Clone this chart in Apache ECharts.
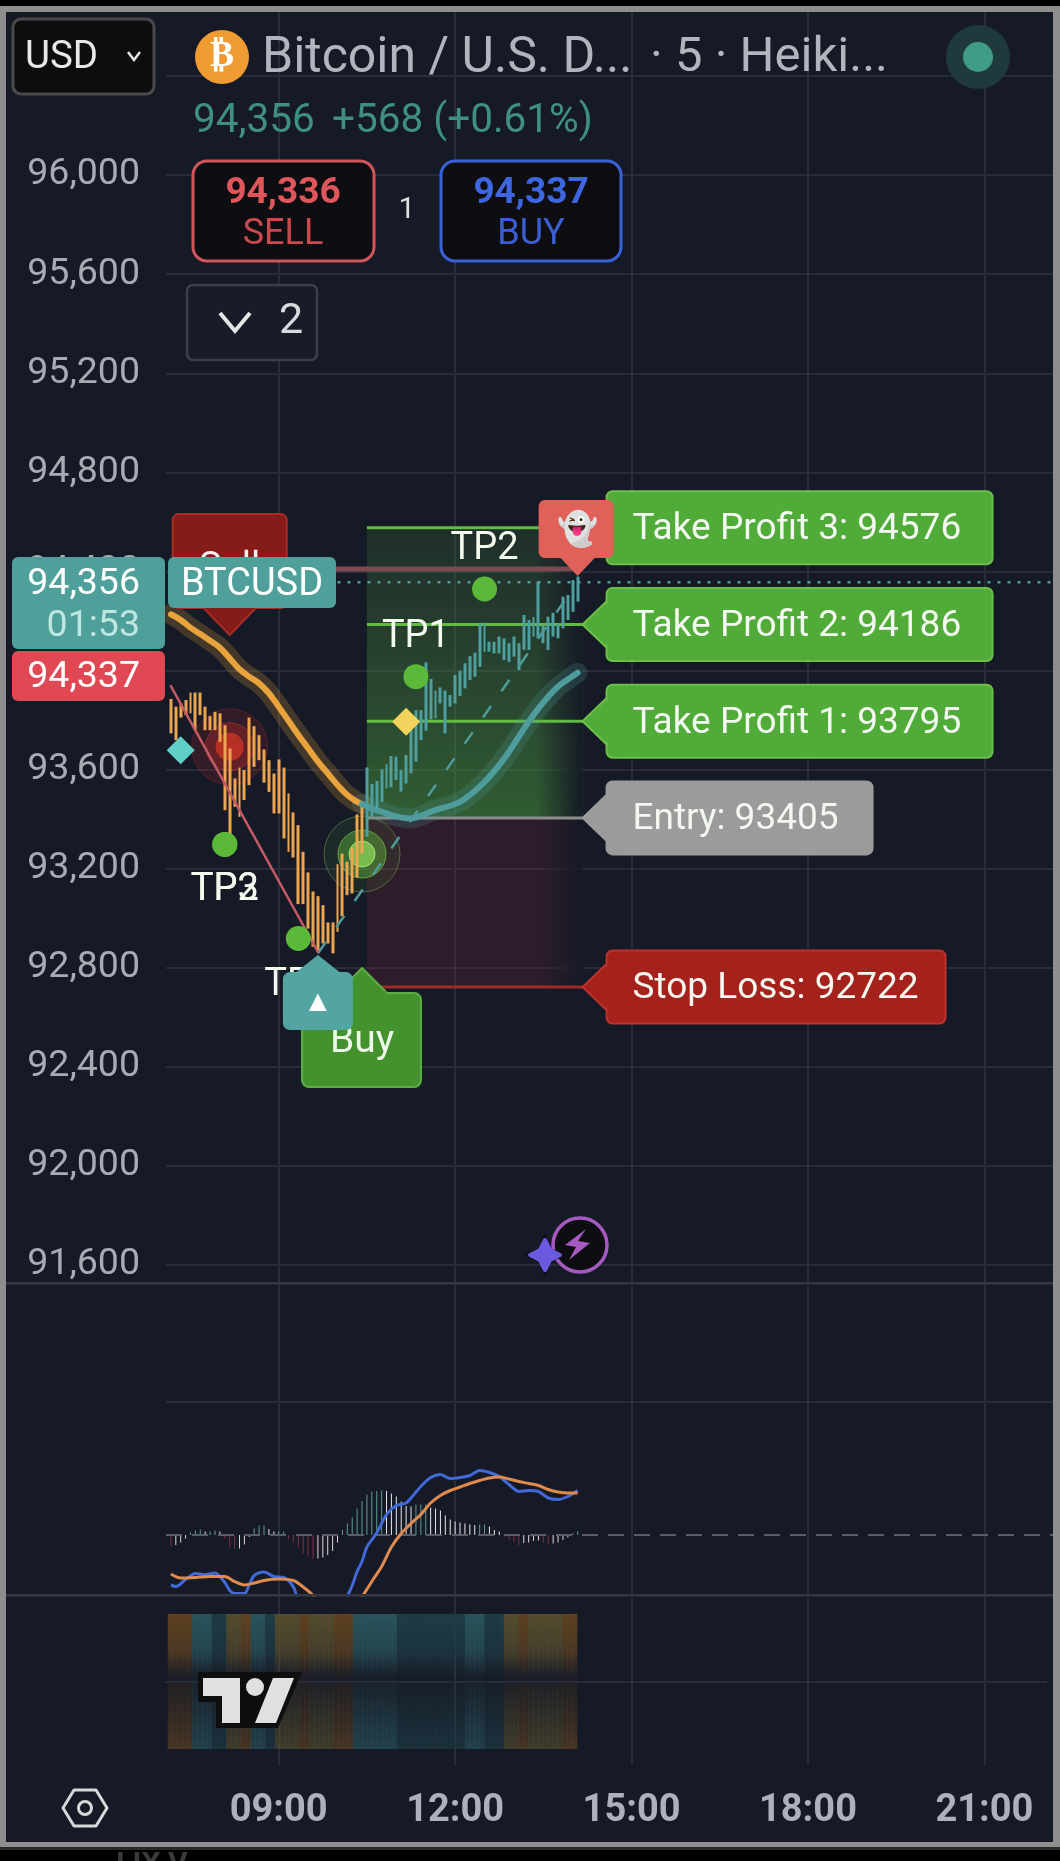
<!DOCTYPE html>
<html><head><meta charset="utf-8">
<script src="https://cdn.jsdelivr.net/npm/echarts@6/dist/echarts.min.js"></script>
<style>
html,body{margin:0;padding:0;background:#000;overflow:hidden}
#frame{position:absolute;left:0;top:6px;width:1060px;height:1841px;background:#8e8e8e}
#inner{position:absolute;left:6px;top:6px;width:1047px;height:1830px;background:#161a26}
#under{position:absolute;left:0;top:1847px;width:1060px;height:3px;background:#2a2a2a}
#chart{position:absolute;left:0;top:0;width:1060px;height:1861px}
</style></head><body>
<div id="frame"><div id="inner"></div></div><div id="under"></div>
<div id="chart"></div>
<script>
const priceTicksMin = 91600, priceTicksMax = 96400, priceStep = 400;
const timeCategories = [];
for (let m = 7 * 60 + 5, n = 0; n < 182; n++, m += 5) {
  timeCategories.push(String(Math.floor(m / 60)).padStart(2, '0') + ':' + String(m % 60).padStart(2, '0'));
}
const amberHigh = [93885,93854,93867,93881,93911,93911,93911,93854,93816,93833,93827,93779,93685,93564,93608,93598,93810,93775,93739,93681,93638,93584,93641,93608,93504,93427,93376,93268,93185,93108,93089,93053,92983,92983,93218,93261,93228,93284,93419,93463];
const amberLow = [93746,93719,93810,93820,93827,93759,93820,93759,93759,93759,93712,93436,93335,93450,93409,93477,93537,93611,93638,93547,93510,93423,93423,93322,93268,93245,93057,93057,92958,92885,92864,92898,92898,92858,92945,93008,93093,93100,93164,93261];
const tealHigh = [93609,93542,93554,93601,93622,93655,93652,93598,93659,93766,93840,93840,94033,93966,93919,93932,93919,93901,93982,93999,94029,94058,94072,94190,94193,94116,94116,94137,94130,94110,94137,94110,94224,94204,94215,94359,94184,94217,94233,94190,94298,94305,94365,94379];
const tealLow = [93329,93410,93423,93470,93524,93528,93558,93511,93544,93585,93632,93719,93757,93803,93807,93867,93746,93854,93867,93897,93928,93962,93975,94015,94076,94076,94069,94069,94042,94035,94056,94002,94083,94083,94137,94130,94110,94083,94137,94130,94170,94204,94237,94278];

const maAmberBars = [0,2,4,6,8,10,12,14,16,18,20,22,24,26,28,30,32,34,36,38,39];
const maAmberValues = [94227,94204,94173,94147,94120,94092,94049,94005,93975,93948,93908,93854,93797,93740,93686,93632,93585,93538,93497,93470,93461];
const maTealBars = [39,41,43,45,47,49,51,53,55,57,59,61,63,65,67,69,71,73,75,77,79,81,83];
const maTealValues = [93461,93443,93430,93416,93407,93403,93413,93430,93443,93454,93470,93497,93531,93571,93618,93672,93733,93793,93847,93894,93935,93964,93991];

const macdBars = [0,1,3,5,7,9,11,12,13,15,16,17,19,21,23,25,26,28,31,34,36,37,38,39,40,42,44,46,48,49,51,53,55,57,59,61,63,65,67,69,71,73,75,77,79,81,83];
const macdValues = [-100,-103,-89,-77,-79,-76,-95,-111,-117,-117,-99,-81,-74,-83,-85,-104,-136,-223,-236,-183,-123,-101,-73,-53,-24,4,41,59,64,74,97,115,121,113,115,119,129,125,117,101,87,89,87,74,71,77,89];
const signalBars = [0,2,5,8,11,13,15,17,19,22,25,27,29,32,35,37,39,41,43,45,47,49,51,53,55,57,59,61,63,65,67,69,71,73,75,77,79,81,83];
const signalValues = [-78,-86,-85,-83,-83,-93,-100,-96,-91,-88,-91,-104,-121,-163,-169,-156,-124,-93,-63,-24,3,23,41,64,79,89,96,103,109,114,116,112,107,103,99,91,86,84,84];
const macdHist = [-23,-20,-15,-7,5,9,11,7,7,9,7,-7,-25,-28,-27,-19,-4,13,19,19,12,7,7,7,-8,-15,-25,-37,-43,-48,-47,-45,-40,-32,-15,10,23,35,53,68,81,87,88,89,88,83,77,67,58,57,61,61,61,55,53,49,39,31,27,25,23,21,20,21,21,17,10,7,-4,-10,-15,-20,-16,-15,-12,-11,-15,-19,-17,-15,-10,-5,3,7];

const stripeRunLengths = [5,4,3,3,2,3,2,5,2,5,4,9,14,4,4,3,2,7,3];
const stripeKinds = ['brown','teal','deep','olive','brown','teal','deep','olive','brown','olive','brown','teal','deep','teal','deep','olive','brown','olive','brown'];

const entryPrice = 93405, stopPrice = 92722, tp1Price = 93795, tp2Price = 94186, tp3Price = 94576;
const lastPrice = 94356, redLinePrice = 94410;
const zoneStartCat = 41, zoneEndCat = 85;
const tagLabels = ['Take Profit 3: 94576','Take Profit 2: 94186','Take Profit 1: 93795','Entry: 93405','Stop Loss: 92722'];
const tagPrices = [tp3Price,tp2Price,tp1Price,entryPrice,stopPrice];
const levelColors = ['#62bb45','#62bb45','#62bb45','#8d8d8d','#a02a24'];

const dotCats = [65,51,12,12,27];
const dotPrices = [94329,93975,93298,93298,92918];
const dotNames = ['TP2','TP1','TP3','TP2','TP1'];
const dotPlacement = ['top','top','bottom','bottom','bottom'];
const diamondCats = [3,49];
const diamondPrices = [93678,93793];
const diamondColors = ['#5fcfc8','#f2d45c'];
const pulseCats = [13,40];
const pulsePrices = [93692,93259];
const trendCats = [31,82];
const trendPrices = [92858,94300];
const diagCats = [1,31];
const diagPrices = [93937,92864];
const flagNames = ['Sell','Buy','up','ghost'];
const flagCats = [13,40,31,84];
const flagPrices = [94143,92799,92851,94381];

const F = 'Roboto, "Noto Sans", sans-serif';
const BG = '#161a26', GRID = '#282c38';
const pairs = (bars, vals, off = 1) => bars.map((b, i) => [b + off, vals[i]]);
const pad = (arr, start) => {
  const out = timeCategories.map(() => '-');
  arr.forEach((v, i) => { out[start + i] = v; });
  return out;
};
const isMajor = (i, v) => { const p = v.split(':'); return p[1] === '00' && Number(p[0]) % 3 === 0; };

const amberCandles = pad(amberHigh.map((h, i) => [h, amberLow[i], amberLow[i], h]), 1);
const tealCandles = pad(tealHigh.map((h, i) => [tealLow[i], h, tealLow[i], h]), 41);

const stripeRgb = { brown:'94,66,34', olive:'84,76,46', teal:'42,84,92', deep:'30,60,70' };
const stripeSeq = [];
stripeRunLengths.forEach((n, i) => { for (let k = 0; k < n; k++) stripeSeq.push(stripeKinds[i]); });
const stripeData = pad(stripeSeq.map(k => {
  const c = stripeRgb[k];
  return { value: 1, itemStyle: { color: { type:'linear', x:0, y:0, x2:0, y2:1, colorStops:[
    {offset:0,color:`rgba(${c},1)`},{offset:.28,color:`rgba(${c},.72)`},{offset:.47,color:`rgba(${c},.05)`},
    {offset:.53,color:`rgba(${c},.16)`},{offset:1,color:`rgba(${c},.66)`}] } } };
}), 1);

const histColor = i => {
  const v = macdHist[i], p = i ? macdHist[i - 1] : v;
  if (v >= 0) return v >= p ? '#5e9c92' : '#e4e8ea';
  return v <= p ? '#7d2f40' : '#e6d4d8';
};
const histData = pad(macdHist.map((v, i) => ({ value: v, itemStyle: { color: histColor(i) } })), 1);

const hAxis = (idx, extra) => Object.assign({
  type:'category', gridIndex:idx, data:timeCategories, boundaryGap:false, show:false,
  axisLine:{show:false}, axisTick:{show:false}, axisLabel:{show:false}, splitLine:{show:false}
}, extra);

const onPrice = { xAxisIndex:1, yAxisIndex:1 };
const txt = (x, y, text, size, fill, align, weight, fam) => ({ type:'text', x, y, style:{ text, fontSize:size, fontFamily:fam||F, fontWeight:weight||'normal', fill, align:align||'center', verticalAlign:'middle', textAlign:align||'center', textVerticalAlign:'middle' } });

function zoneRender(params, api) {
  const l = api.coord([zoneStartCat, tp3Price]), r = api.coord([zoneEndCat, stopPrice]), m = api.coord([zoneEndCat, entryPrice]);
  return { type:'group', children:[
    { type:'rect', shape:{x:l[0],y:l[1],width:r[0]-l[0],height:m[1]-l[1]}, style:{ fill:{type:'linear',x:0,y:0,x2:0,y2:1,colorStops:[{offset:0,color:'rgba(70,130,65,.20)'},{offset:1,color:'rgba(72,150,60,.54)'}]} } },
    { type:'rect', shape:{x:l[0],y:m[1],width:r[0]-l[0],height:r[1]-m[1]}, style:{ fill:'rgba(125,35,55,.25)' } },
    { type:'rect', shape:{x:r[0]-46,y:l[1],width:46,height:r[1]-l[1]}, style:{ fill:{type:'linear',x:0,y:0,x2:1,y2:0,colorStops:[{offset:0,color:'rgba(22,26,38,0)'},{offset:1,color:'rgba(22,26,38,1)'}]} } }
  ]};
}
function levelRender(params, api) {
  const i = params.dataIndex, a = api.coord([zoneStartCat, tagPrices[i]]), b = api.coord([zoneEndCat, tagPrices[i]]);
  return { type:'line', shape:{x1:a[0],y1:a[1],x2:b[0],y2:b[1]}, style:{ stroke:levelColors[i], lineWidth:3 } };
}
function pulseRender(params, api) {
  const i = params.dataIndex, c = api.coord([pulseCats[i], pulsePrices[i]]);
  const red = i === 0;
  const ring = (r, fill, stroke) => ({ type:'circle', shape:{cx:c[0],cy:c[1],r}, style:{fill, stroke:stroke||'none', lineWidth:1} });
  return { type:'group', children: red ? [
    ring(38,'rgba(190,40,45,.17)','rgba(200,50,50,.3)'), ring(24,'rgba(205,45,40,.32)','rgba(220,70,60,.4)'), ring(14,'rgba(235,60,35,.62)')
  ] : [
    ring(38,'rgba(110,190,70,.10)','rgba(130,200,90,.42)'), ring(24,'rgba(95,190,60,.42)','rgba(130,215,90,.6)'), ring(13,'rgba(140,215,90,.75)','rgba(170,235,120,.9)')
  ]};
}
const flagPoly = (pts, fill, stroke) => ({ type:'polygon', shape:{points:pts}, style:{fill, stroke:stroke||'none', lineWidth:2, lineJoin:'round'} });
function flagRender(params, api) {
  const i = params.dataIndex, c = api.coord([flagCats[i], flagPrices[i]]), x = c[0], y = c[1];
  if (i === 0) return { type:'group', children:[
    { type:'rect', shape:{x:x-57,y:y-121,width:114,height:94,r:6}, style:{fill:'#861c18',stroke:'#a92d27',lineWidth:2} },
    flagPoly([[x-26,y-27],[x,y],[x+26,y-27]],'#861c18','#a92d27'),
    { type:'rect', shape:{x:x-25,y:y-30,width:50,height:4}, style:{fill:'#861c18'} },
    txt(x,y-66,'Sell',38,'#f2f2f2')
  ]};
  if (i === 1) return { type:'group', children:[
    flagPoly([[x-26,y+26],[x,y],[x+26,y+26]],'#43922e','#5cad43'),
    { type:'rect', shape:{x:x-60,y:y+25,width:119,height:94,r:7}, style:{fill:'#43922e',stroke:'#5cad43',lineWidth:2} },
    { type:'rect', shape:{x:x-24,y:y+23,width:48,height:5}, style:{fill:'#43922e'} },
    txt(x,y+74,'Buy',39,'#eef7ea')
  ]};
  if (i === 2) return { type:'group', children:[
    flagPoly([[x-24,y+19],[x,y],[x+24,y+19]],'#52a5a0'),
    { type:'rect', shape:{x:x-35,y:y+17,width:70,height:58,r:7}, style:{fill:'#52a5a0'} },
    txt(x,y+48,'▲',30,'#ffffff')
  ]};
  return { type:'group', children:[
    { type:'rect', shape:{x:x-39,y:y-76,width:75,height:58,r:6}, style:{fill:'#e0605a'} },
    flagPoly([[x-18,y-19],[x,y],[x+18,y-19]],'#e0605a'),
    txt(x,y-46,'👻',33,'#eeeeee','center','normal','"Noto Color Emoji","DejaVu Sans",sans-serif')
  ]};
}
function tagRender(params, api) {
  const i = params.dataIndex, c = api.coord([zoneEndCat, tagPrices[i]]), tip = c[0], y = c[1];
  const body = tip + 24;
  const spec = [
    {w:386,fill:'#50ab38',line:'#6cc04a',arrow:false},
    {w:386,fill:'#50ab38',line:'#6cc04a',arrow:true},
    {w:386,fill:'#50ab38',line:'#6cc04a',arrow:true},
    {w:266,fill:'#9b9b9b',line:'#9b9b9b',arrow:true},
    {w:339,fill:'#a4211c',line:'#bb332c',arrow:true}
  ][i];
  const h = 73, kids = [];
  if (spec.arrow) kids.push(flagPoly([[tip,y],[body+2,y-25],[body+2,y+25]],spec.fill,spec.line));
  kids.push({ type:'rect', shape:{x:body,y:y-h/2,width:spec.w,height:h,r:6}, style:{fill:spec.fill,stroke:spec.line,lineWidth:2} });
  if (spec.arrow) kids.push(flagPoly([[tip+3,y],[body+3,y-23],[body+3,y+23]],spec.fill));
  kids.push(txt(body+26,y+2,tagLabels[i],37,'#f3f8f0','left'));
  return { type:'group', children:kids };
}

const customSeries = (name, z, data, renderItem) => Object.assign({ type:'custom', name, z, data, renderItem, clip:false, silent:true, encode:{x:0,y:1} }, onPrice);
const lineS = (name, z, data, color, width, opts) => Object.assign({ type:'line', name, z, data, symbol:'none', silent:true, lineStyle:Object.assign({color,width,cap:'round',join:'round'},opts&&opts.ls) }, onPrice, opts&&opts.s);

/* fixed chrome of the app screen */
const poly = (pts, fill, z, stroke, lw) => ({ type:'polygon', z:z||100, shape:{points:pts}, style:{fill, stroke:stroke||'none', lineWidth:lw||1, lineJoin:'round'} });
const rc = (x,y,w,h,r,fill,stroke,lw) => ({ type:'rect', z:100, shape:{x,y,width:w,height:h,r}, style:{fill,stroke:stroke||'none',lineWidth:lw||0} });
const gt = (x,y,t,size,fill,align,weight,fam,z) => Object.assign(txt(x,y,t,size,fill,align,weight,fam),{z:z||101});
const chev = (cx,cy,w,h,c,lw) => ({ type:'polyline', z:101, shape:{points:[[cx-w,cy-h],[cx,cy+h],[cx+w,cy-h]]}, style:{stroke:c,lineWidth:lw,fill:'none'} });

const graphicEls = [
  rc(6,1282,1047,2.5,0,'#353844'), rc(6,1594,1047,2.5,0,'#353844'),
  rc(13,19,141,75,8,'#0d0d10','#4a4a4a',3),
  gt(25,58,'USD',38.5,'#e8e8e8','left'), chev(134,56,6,4,'#e8e8e8',2.5),
  { type:'circle', z:100, shape:{cx:222,cy:57,r:27}, style:{fill:'#ee9c32'} },
  gt(222,57,'₿',36,'#ffffff','center','bold','"DejaVu Sans"'),
  gt(262,59,'Bitcoin / U.S. D...',50,'#b2b5be','left'),
  gt(650,59,'· 5 · Heiki...',49,'#b2b5be','left'),
  { type:'circle', z:100, shape:{cx:978,cy:57,r:32}, style:{fill:'#1f3a3c'} },
  { type:'circle', z:100, shape:{cx:978,cy:57,r:15}, style:{fill:'#3f9d85'} },
  gt(193,122,'94,356',40.5,'#3f9080','left'),
  gt(332,122,'+568 (+0.61%)',40.5,'#3f9080','left'),
  rc(193,161,181,100,14,'#0e0e12','#d0555a',3),
  gt(283,194,'94,336',37,'#e0565b','center','bold'),
  gt(283,235,'SELL',36,'#c8494e'),
  gt(407,211,'1',29,'#e0e0e0'),
  rc(441,161,180,100,14,'#0e0e12','#3a62d8',3),
  gt(531,194,'94,337',37,'#3d66e0','center','bold'),
  gt(531,235,'BUY',36,'#3a5fd2'),
  rc(187,285,130,75,6,'#181c28','#3c3f48',2.5),
  chev(235,322,15,9,'#e6e6e6',4),
  gt(291,322,'2',43,'#d8dae0'),
  rc(12,557,153,92,6,'#4f9f9a'),
  gt(140,585,'94,356',37.5,'#ffffff','right'),
  gt(140,627,'01:53',37.5,'#c0e6e2','right'),
  rc(12,651,153,50,6,'#e04854'),
  gt(140,678,'94,337',37.5,'#ffffff','right'),
  rc(168,557,168,51,6,'#4f9f9a'),
  gt(252,585,'BTCUSD',38,'#ffffff'),
  { type:'circle', z:100, shape:{cx:580,cy:1245,r:27}, style:{fill:'#0e0e12',stroke:'#a45ac0',lineWidth:3.5} },
  poly([[586,1229],[578,1241],[590,1243],[569,1260],[576,1247],[565,1245]],'#a45ac0',101),
  poly([[545,1236],[550,1250],[564,1255],[550,1260],[545,1274],[540,1260],[526,1255],[540,1250]],'#6a5ae0',101,'#0e0e12',3),
  poly([[545,1240],[550,1250],[560,1255],[550,1260],[545,1270],[540,1260],[530,1255],[540,1250]],'#6a5ae0',101,'#6a5ae0',4),
  poly([[198,1672],[302,1672],[278,1728],[216,1728],[216,1702],[198,1702]],'#0e0e10'),
  poly([[203,1678],[240,1678],[240,1723],[222,1723],[222,1696],[203,1696]],'#e0e0e0',101),
  poly([[273,1678],[294,1678],[276,1723],[255,1723]],'#e0e0e0',101),
  { type:'circle', z:101, shape:{cx:255,cy:1687,r:9}, style:{fill:'#e0e0e0'} },
  poly([[63,1808],[74,1790],[96,1790],[107,1808],[96,1826],[74,1826]],'none',101,'#d8d8d8',3),
  { type:'circle', z:101, shape:{cx:85,cy:1808,r:6.5}, style:{fill:'none',stroke:'#d8d8d8',lineWidth:3} },
  gt(152,1865,'LIX V',30,'#3a3a3a','center','bold')
];

const chart = echarts.init(document.getElementById('chart'), null, { renderer:'canvas', width:1060, height:1861 });
chart.setOption({
  animation:false, backgroundColor:'transparent',
  grid:[
    { left:166, width:887, top:12, height:1753 },
    { left:166, width:887, top:76, height:1189 },
    { left:166, width:887, top:1283, height:312 },
    { left:165.6, width:881.5, top:1614, height:135 }
  ],
  xAxis:[
    { type:'category', gridIndex:0, data:timeCategories, boundaryGap:false,
      axisLine:{show:false}, axisTick:{show:false},
      axisLabel:{ interval:isMajor, color:'#adb1bd', fontSize:38, fontWeight:'bold', fontFamily:F, margin:27 },
      splitLine:{ show:true, interval:isMajor, lineStyle:{ color:GRID, width:2 } } },
    hAxis(1), hAxis(2), hAxis(3)
  ],
  yAxis:[
    { type:'value', gridIndex:0, show:false, min:0, max:1 },
    { type:'value', gridIndex:1, min:priceTicksMin, max:priceTicksMax, interval:priceStep,
      axisLine:{show:false}, axisTick:{show:false},
      axisLabel:{ margin:26, color:'#a8abb4', fontSize:37.5, fontFamily:F, align:'right', padding:[4,0,0,0],
        formatter:v => v === priceTicksMax ? '' : v.toLocaleString('en-US') },
      splitLine:{ lineStyle:{ color:GRID, width:2 } } },
    { type:'value', gridIndex:2, show:false, min:-120, max:504 },
    { type:'value', gridIndex:3, show:false, min:0, max:1 }
  ],
  graphic:{ elements:graphicEls },
  series:[
    customSeries('zones',2,[[zoneStartCat,tp3Price]],zoneRender),
    customSeries('pulses',3,pulseCats.map((c,i)=>[c,pulsePrices[i]]),pulseRender),
    customSeries('levels',4,tagPrices.map(p=>[zoneStartCat,p]),levelRender),
    lineS('red level',4,[[2,redLinePrice],[84,redLinePrice]],'#7d4a52',5),
    lineS('last price',4,[[35,lastPrice],[181,lastPrice]],'#4f9a9a',2.5,{ls:{type:[3,7],cap:'butt'}}),
    lineS('amber halo',5,pairs(maAmberBars,maAmberValues),'rgba(232,163,61,.22)',20,{s:{smooth:.4}}),
    lineS('teal halo',5,pairs(maTealBars,maTealValues),'rgba(78,156,155,.22)',20,{s:{smooth:.4}}),
    Object.assign({ type:'candlestick', name:'down bars', z:6, data:amberCandles, barWidth:3.4, silent:true,
      itemStyle:{ color:'#eca550', color0:'#eca550', borderColor:'#eca550', borderColor0:'#eca550', borderWidth:0 } }, onPrice),
    Object.assign({ type:'candlestick', name:'up bars', z:6, data:tealCandles, barWidth:3.4, silent:true,
      itemStyle:{ color:'#4f9f9f', color0:'#4f9f9f', borderColor:'#4f9f9f', borderColor0:'#4f9f9f', borderWidth:0 } }, onPrice),
    lineS('amber ma',7,pairs(maAmberBars,maAmberValues),'#e8a33d',6,{s:{smooth:.4}}),
    lineS('teal ma',7,pairs(maTealBars,maTealValues),'#4e9c9b',6,{s:{smooth:.4}}),
    lineS('trend',7,pairs(trendCats,trendPrices,0),'#4f9a9a',2.5,{ls:{type:[14,18],cap:'butt'}}),
    lineS('diagonal',7,pairs(diagCats,diagPrices,0),'#c25a66',2.5),
    Object.assign({ type:'scatter', name:'targets', z:8, symbol:'circle', symbolSize:25, silent:true,
      data:dotCats.map((c,i)=>({ value:[c,dotPrices[i]],
        label:{ show:true, position:dotPlacement[i], distance:i < 2 ? 8 : 15, formatter:dotNames[i], fontSize:38, fontFamily:F, color:'#f2fbee' } })),
      itemStyle:{ color:'#5cb838', opacity:1 } }, onPrice),
    Object.assign({ type:'scatter', name:'diamonds', z:8, symbol:'diamond', symbolSize:[28,28], silent:true,
      data:diamondCats.map((c,i)=>({ value:[c,diamondPrices[i]], itemStyle:{ color:diamondColors[i], opacity:1 } })) }, onPrice),
    customSeries('tags',9,tagPrices.map(p=>[zoneEndCat,p]),tagRender),
    customSeries('flags',10,flagCats.map((c,i)=>[c,flagPrices[i]]),flagRender),
    { type:'bar', name:'histogram', xAxisIndex:2, yAxisIndex:2, z:3, data:histData, barWidth:1, silent:true },
    { type:'line', name:'macd', xAxisIndex:2, yAxisIndex:2, z:5, data:pairs(macdBars,macdValues), symbol:'none', smooth:.3, silent:true,
      lineStyle:{ color:'#4169d8', width:3 },
      markLine:{ silent:true, symbol:'none', label:{show:false},
        data:[ { yAxis:0, lineStyle:{ color:'#5a5d68', type:[16,10], width:2 } }, { yAxis:266, lineStyle:{ color:GRID, type:'solid', width:2 } } ] } },
    { type:'line', name:'signal', xAxisIndex:2, yAxisIndex:2, z:6, data:pairs(signalBars,signalValues), symbol:'none', smooth:.3, silent:true,
      lineStyle:{ color:'#e08a4e', width:3 } },
    { type:'bar', name:'stripes', xAxisIndex:3, yAxisIndex:3, z:3, data:stripeData, barWidth:5.4, silent:true,
      markLine:{ silent:true, symbol:'none', label:{show:false}, data:[ { yAxis:.5, lineStyle:{ color:GRID, type:'solid', width:2 } } ] } }
  ]
});
</script></body></html>
